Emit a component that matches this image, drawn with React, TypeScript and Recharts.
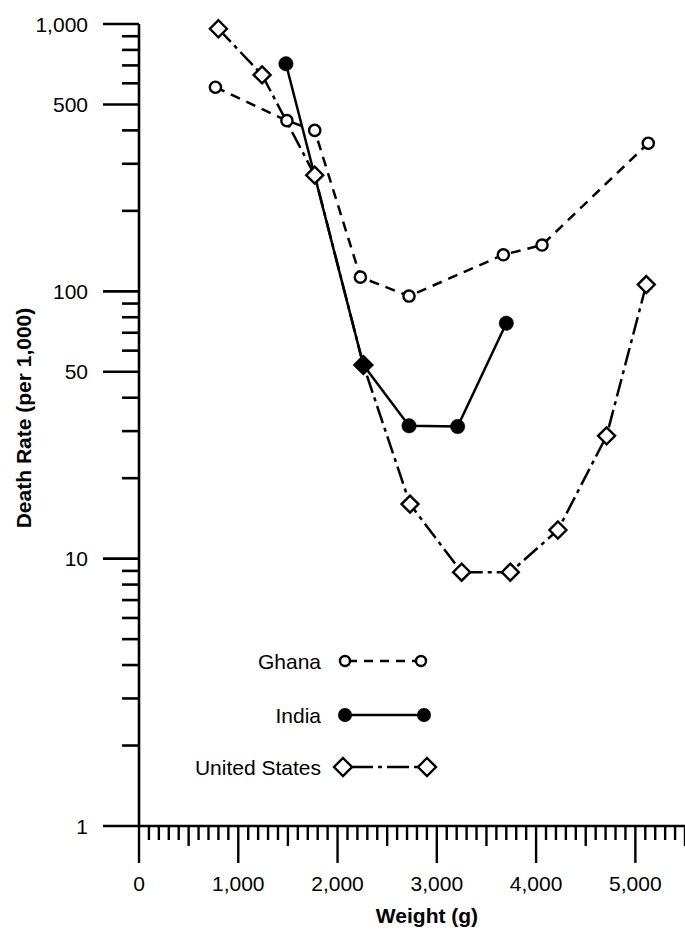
import React from 'react';
import { LineChart, Line, XAxis, YAxis, Customized } from 'recharts';

// ---- Data ----
const ghanaWeight = [770, 1490, 1770, 2230, 2720, 3670, 4060, 5130];
const ghanaRate = [580, 435, 400, 113, 96, 137, 149, 358];

const indiaWeight = [1480, 2260, 2720, 3210, 3700];
const indiaRate = [710, 53, 31.4, 31.2, 76];

const usWeight = [800, 1240, 1770, 2260, 2730, 3250, 3740, 4220, 4710, 5110];
const usRate = [960, 645, 272, 53, 16, 8.9, 8.9, 12.8, 28.8, 106];

// ---- Tick labels ----
const weightLabels = [0, 1000, 2000, 3000, 4000, 5000];
const rateLabels = [1, 10, 50, 100, 500, 1000];
const weightMax = 5500;
const weightStep = 100;
const rateDecades = [1, 10, 100];
const rateMultipliers = [1, 2, 3, 4, 5, 6, 7, 8, 9];

const seriesNames = ['Ghana', 'India', 'United States'];

const weightTicks: number[] = [];
for (let w = 0; w <= weightMax; w += weightStep) weightTicks.push(w);
const rateTicks: number[] = [];
rateDecades.forEach((d) => rateMultipliers.forEach((m) => rateTicks.push(d * m)));
rateTicks.push(1000);

const toPoints = (w: number[], r: number[]) => w.map((x, i) => ({ weight: x, rate: r[i] }));
const ghanaData = toPoints(ghanaWeight, ghanaRate);
const indiaData = toPoints(indiaWeight, indiaRate);
const usData = toPoints(usWeight, usRate);

const FONT = '"Liberation Sans", Arial, Helvetica, sans-serif';
const SW = 2.5;

const fmt = (v: number) => v.toLocaleString('en-US');

const diamondPath = (cx: number, cy: number, h: number) =>
  `M${cx},${cy - h} L${cx + h},${cy} L${cx},${cy + h} L${cx - h},${cy} Z`;

const coincides = (a: { weight: number; rate: number }, list: { weight: number; rate: number }[]) =>
  list.some((b) => b.weight === a.weight && b.rate === a.rate);

const GhanaDot = (p: any) => {
  const { cx, cy, index } = p;
  if (cx == null || cy == null) return <g key={`gd${index}`} />;
  return <circle key={`gd${index}`} cx={cx} cy={cy} r={5.6} fill="#fff" stroke="#000" strokeWidth={2.4} />;
};

const IndiaDot = (p: any) => {
  const { cx, cy, index, payload } = p;
  if (cx == null || cy == null) return <g key={`id${index}`} />;
  if (payload && coincides(payload, usData)) {
    return <path key={`id${index}`} d={diamondPath(cx, cy, 9.5)} fill="#000" stroke="#000" strokeWidth={1.5} />;
  }
  return <circle key={`id${index}`} cx={cx} cy={cy} r={7.2} fill="#000" stroke="#000" strokeWidth={0.5} />;
};

const UsDot = (p: any) => {
  const { cx, cy, index, payload } = p;
  if (cx == null || cy == null) return <g key={`ud${index}`} />;
  const filled = payload && coincides(payload, indiaData);
  return (
    <path
      key={`ud${index}`}
      d={diamondPath(cx, cy, 8.5)}
      fill={filled ? '#000' : '#fff'}
      stroke="#000"
      strokeWidth={2.4}
    />
  );
};

const WeightTick = (p: any) => {
  const { x, y, payload } = p;
  const v = payload.value as number;
  const major = weightLabels.includes(v);
  const half = !major && v % 500 === 0;
  const len = major ? 37 : half ? 20 : 14;
  return (
    <g>
      <line x1={x} x2={x} y1={y} y2={y + len} stroke="#000" strokeWidth={2.4} />
      {major && (
        <text x={x} y={y + 57} textAnchor="middle" dominantBaseline="central" fontFamily={FONT} fontSize={21} fill="#000">
          {fmt(v)}
        </text>
      )}
    </g>
  );
};

const RateTick = (p: any) => {
  const { x, y, payload } = p;
  const v = payload.value as number;
  const major = rateLabels.includes(v);
  const len = major ? 36 : 17;
  return (
    <g>
      <line x1={x - len} x2={x} y1={y} y2={y} stroke="#000" strokeWidth={2.6} />
      {major && (
        <text x={x - 51} y={y} textAnchor="end" dominantBaseline="central" fontFamily={FONT} fontSize={21} fill="#000">
          {fmt(v)}
        </text>
      )}
    </g>
  );
};

const LegendBlock = () => {
  const rows = [
    { name: seriesNames[0], y: 661, kind: 'ghana' },
    { name: seriesNames[1], y: 715, kind: 'india' },
    { name: seriesNames[2], y: 767, kind: 'us' },
  ];
  const labelX = 321;
  const left = 345;
  const right = 424;
  return (
    <g>
      {rows.map((r) => (
        <g key={r.name}>
          <text x={labelX} y={r.y} textAnchor="end" dominantBaseline="central" fontFamily={FONT} fontSize={21} fill="#000">
            {r.name}
          </text>
          {r.kind === 'ghana' && (
            <g>
              <line x1={left} x2={right} y1={r.y} y2={r.y} stroke="#000" strokeWidth={SW} strokeDasharray="9 7" strokeDashoffset={-3} />
              <circle cx={left} cy={r.y} r={5} fill="#fff" stroke="#000" strokeWidth={2.4} />
              <circle cx={right - 3} cy={r.y} r={5} fill="#fff" stroke="#000" strokeWidth={2.4} />
            </g>
          )}
          {r.kind === 'india' && (
            <g>
              <line x1={left} x2={right} y1={r.y} y2={r.y} stroke="#000" strokeWidth={SW} />
              <circle cx={left} cy={r.y} r={7} fill="#000" />
              <circle cx={right} cy={r.y} r={7} fill="#000" />
            </g>
          )}
          {r.kind === 'us' && (
            <g>
              <line x1={left} x2={right + 3} y1={r.y} y2={r.y} stroke="#000" strokeWidth={SW} strokeDasharray="22 5 4 5" strokeDashoffset={-6} />
              <path d={diamondPath(left - 2, r.y, 9)} fill="#fff" stroke="#000" strokeWidth={2.4} />
              <path d={diamondPath(right + 3, r.y, 9)} fill="#fff" stroke="#000" strokeWidth={2.4} />
            </g>
          )}
        </g>
      ))}
    </g>
  );
};

const Titles = () => (
  <g>
    <text x={427} y={915} textAnchor="middle" dominantBaseline="central" fontFamily={FONT} fontWeight={700} fontSize={21} fill="#000">
      Weight (g)
    </text>
    <text
      x={23}
      y={418}
      transform="rotate(-90 23 418)"
      textAnchor="middle"
      dominantBaseline="central"
      fontFamily={FONT}
      fontWeight={700}
      fontSize={21}
      fill="#000"
    >
      Death Rate (per 1,000)
    </text>
  </g>
);

export default function App() {
  return (
    <div style={{ position: 'absolute', left: 0, top: 0, width: 685, height: 931, background: '#fff' }}>
      <LineChart width={685} height={931} margin={{ top: 24, right: 0, bottom: 0, left: 0 }}>
        <XAxis
          dataKey="weight"
          type="number"
          domain={[0, weightMax]}
          ticks={weightTicks}
          interval={0}
          height={105}
          tickSize={0}
          tickMargin={0}
          tickLine={false}
          axisLine={{ stroke: '#000', strokeWidth: 2.6 }}
          tick={<WeightTick />}
        />
        <YAxis
          dataKey="rate"
          type="number"
          scale="log"
          domain={[1, 1000]}
          ticks={rateTicks}
          interval={0}
          width={139}
          tickSize={0}
          tickMargin={0}
          tickLine={false}
          axisLine={{ stroke: '#000', strokeWidth: 2.6 }}
          tick={<RateTick />}
        />
        <Line
          data={usData}
          dataKey="rate"
          name={seriesNames[2]}
          stroke="#000"
          strokeWidth={SW}
          strokeDasharray="18 5 4 5"
          dot={UsDot}
          activeDot={false}
          isAnimationActive={false}
        />
        <Line
          data={ghanaData}
          dataKey="rate"
          name={seriesNames[0]}
          stroke="#000"
          strokeWidth={SW}
          strokeDasharray="10 7"
          dot={GhanaDot}
          activeDot={false}
          isAnimationActive={false}
        />
        <Line
          data={indiaData}
          dataKey="rate"
          name={seriesNames[1]}
          stroke="#000"
          strokeWidth={SW}
          dot={IndiaDot}
          activeDot={false}
          isAnimationActive={false}
        />
        <Customized component={LegendBlock} />
        <Customized component={Titles} />
      </LineChart>
    </div>
  );
}
